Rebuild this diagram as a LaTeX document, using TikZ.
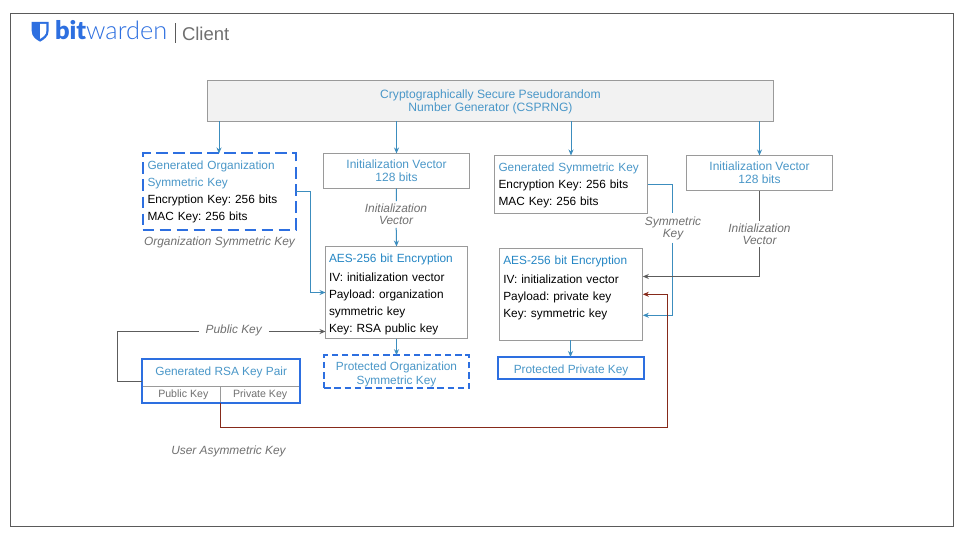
\documentclass[tikz,border=0pt]{standalone}
\usepackage{fontspec}
\setmainfont{Liberation Sans}
\newfontfamily\logolight{Lato Light}
\newfontfamily\logobold{Lato Black}
\usetikzlibrary{arrows.meta}
\definecolor{framegray}{HTML}{5A5A5A}
\definecolor{clientgray}{HTML}{707070}
\definecolor{boxgray}{HTML}{9A9A9A}
\definecolor{titleblue}{HTML}{4A97C8}
\definecolor{aesblue}{HTML}{2486C4}
\definecolor{linkblue}{HTML}{3C8DBE}
\definecolor{brandblue}{HTML}{2D6FE0}
\definecolor{notegray}{HTML}{707070}
\definecolor{linkgray}{HTML}{5C5C5C}
\definecolor{linkred}{HTML}{862A1A}
\tikzset{
  x=1pt,y=-1pt,
  every node/.style={font=\fontsize{11.85}{17}\selectfont\frenchspacing,inner sep=0pt,outer sep=0pt},
  plainbox/.style={draw=boxgray,line width=1pt,anchor=north west,align=center,text=titleblue},
  textbox/.style={plainbox,align=left,text=black},
  orgdash/.style={draw=brandblue,line width=2pt,dash pattern=on 11.5pt off 5.5pt,anchor=north west,align=left},
  protdash/.style={draw=brandblue,line width=1.8pt,dash pattern=on 6.5pt off 3.8pt,anchor=north west,align=center,text=titleblue},
  brandbox/.style={draw=brandblue,line width=2pt,anchor=north west,align=center,text=titleblue},
  cell/.style={draw=boxgray,line width=0.8pt,anchor=north west,text=notegray,font=\fontsize{10.6}{12}\selectfont\frenchspacing},
  note/.style={text=notegray,align=center,inner xsep=7pt,inner ysep=3pt,font=\fontsize{11.9}{12}\selectfont\itshape\frenchspacing},
  bluelink/.style={draw=linkblue,line width=1pt},
  graylink/.style={draw=linkgray,line width=1pt},
  redlink/.style={draw=linkred,line width=1pt},
  tip/.style={-{Stealth[length=6pt,width=5pt]}},
}
\newcommand{\ttl}[1]{\textcolor{titleblue}{#1}}
\newcommand{\aes}[1]{\textcolor{aesblue}{#1}}
\newcommand{\drop}[1]{\rule{0pt}{#1pt}}
\begin{document}
\begin{tikzpicture}
\useasboundingbox (0,0) rectangle (960,540);
\fill[white] (0,0) rectangle (960,540);
\node[draw=framegray,line width=1pt,anchor=north west,minimum width=943pt,minimum height=513pt] (frame) at (10.5,13.5) {};
% logo
\fill[brandblue] (31.7,21.8) -- (48.6,21.8) -- (48.6,31) .. controls (48.6,36.5) and (44,39.5) .. (40.1,41.7) .. controls (36,39.5) and (31.7,36.5) .. (31.7,31) -- cycle;
\fill[white] (40.1,24) -- (46.3,24) -- (46.3,31) .. controls (46.3,34.5) and (43.5,36.8) .. (40.1,38.8) -- cycle;
\node[anchor=base west,text=brandblue] (brand) at (55,39.7) {\fontsize{25.4}{25.4}\selectfont{\logobold bit}{\logolight warden}};
\node[anchor=base west,text=clientgray] (client) at (182,40.6) {\fontsize{18.5}{20}\selectfont Client};
\draw[framegray,line width=0.7pt] (175.4,23.4) -- (175.4,42.7);
% boxes
\node[draw=boxgray,fill=black!5,line width=1pt,anchor=north west,minimum width=566pt,minimum height=41pt,align=center,text=titleblue,font=\fontsize{12.1}{17}\selectfont\frenchspacing] (top) at (207.5,80.5) {\drop{11}Cryptographically Secure Pseudorandom\\[-4pt]Number Generator (CSPRNG)};
\node[orgdash,minimum width=153pt,minimum height=76pt,text width=143pt] (org) at (142.5,153.5) {\drop{9.5}\ttl{Generated Organization}\\\ttl{Symmetric Key}\\Encryption Key: 256 bits\\MAC Key: 256 bits};
\node[plainbox,minimum width=146pt,minimum height=35pt,font=\fontsize{12}{17}\selectfont\frenchspacing] (ivone) at (323.5,153.5) {Initialization Vector\\[-4pt]128 bits};
\node[textbox,minimum width=142pt,minimum height=92pt,text width=135pt] (aesone) at (325.5,246.5) {\drop{13}\aes{AES-256 bit Encryption}\\[2pt]IV: initialization vector\\Payload: organization\\symmetric key\\Key: RSA public key};
\node[protdash,minimum width=145pt,minimum height=33pt] (protorg) at (324,355.2) {\drop{15}Protected Organization\\[-3pt]Symmetric Key};
\node[textbox,minimum width=153pt,minimum height=58pt,text width=145pt] (sym) at (494.5,155.5) {\drop{11}\ttl{Generated Symmetric Key}\\Encryption Key: 256 bits\\MAC Key: 256 bits};
\node[plainbox,minimum width=146pt,minimum height=35pt,font=\fontsize{12}{17}\selectfont\frenchspacing] (ivtwo) at (686.5,155.5) {Initialization Vector\\[-4pt]128 bits};
\node[textbox,minimum width=143.5pt,minimum height=92pt,text width=135.5pt] (aestwo) at (499.3,248.3) {\aes{AES-256 bit Encryption}\\[2pt]IV: initialization vector\\Payload: private key\\Key: symmetric key\\[-2pt]\mbox{}};
\node[brandbox,minimum width=145.5pt,minimum height=21.7pt] (protpriv) at (498.3,357) {\drop{14}Protected Private Key};
\node[cell,minimum width=78pt,minimum height=16.4pt] (pubcell) at (142.3,386.3) {\hspace*{4pt}Public Key};
\node[cell,minimum width=79.7pt,minimum height=16.4pt] (privcell) at (220.3,386.3) {Private Key};
\node[brandbox,minimum width=157.7pt,minimum height=43.4pt,text depth=20pt] (rsa) at (142.3,359.3) {Generated RSA Key Pair};
% labels
\node[note] (noteorg) at (219.5,242) {Organization Symmetric Key};
\node[note] (noteuser) at (228.5,451) {User Asymmetric Key};
\node[note] (lblivone) at (396,214.5) {Initialization\\Vector};
\node[note] (lblpub) at (233.7,330) {Public Key};
\node[note] (lblsym) at (673,228) {Symmetric\\Key};
\node[note] (lblivtwo) at (759.5,234) {Initialization\\Vector};
% connectors
\draw[bluelink,tip] (top.south -| org.north) -- (org.north);
\draw[bluelink,tip] (top.south -| ivone.north) -- (ivone.north);
\draw[bluelink,tip] (top.south -| 571,0) -- (sym.north -| 571,0);
\draw[bluelink,tip] (top.south -| ivtwo.north) -- (ivtwo.north);
\draw[bluelink] (ivone.south) -- (lblivone);
\draw[bluelink,tip] (lblivone) -- (aesone.north);
\draw[bluelink,tip] (org.east) -- (310.5,191.5) -- (310.5,292.5) -- (aesone.west);
\draw[graylink] (rsa.west) -- (117.5,381) -- (117.5,331.5) -- (lblpub.west |- 0,331.5);
\draw[graylink,tip] (lblpub.east |- 0,331.5) -- (aesone.west |- 0,331.5);
\draw[bluelink,tip] (aesone.south) -- (protorg.north -| aesone.south);
\draw[bluelink] (sym.east) -- (672.5,184.5) -- (lblsym.north -| 672.5,0);
\draw[bluelink,tip] (lblsym.south -| 672.5,0) -- (672.5,315.3) -- (aestwo.east |- 0,315.3);
\draw[graylink] (ivtwo.south) -- (lblivtwo);
\draw[graylink,tip] (lblivtwo.south) -- (759.5,276.5) -- (aestwo.east |- 0,276.5);
\draw[redlink,tip] (privcell.south west) -- (220.3,427.5) -- (667.5,427.5) -- (667.5,294.3) -- (aestwo.east |- 0,294.3);
\draw[bluelink,tip] (aestwo.south -| 570.5,0) -- (protpriv.north -| 570.5,0);
\end{tikzpicture}
\end{document}
